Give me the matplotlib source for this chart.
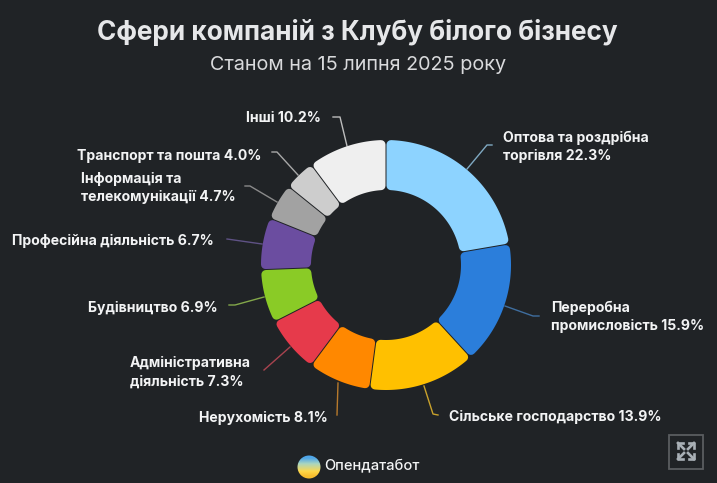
"""Сфери компаній з Клубу білого бізнесу: donut chart on a dark background."""

import matplotlib

matplotlib.use("Agg")
import matplotlib.pyplot as plt
import numpy as np
from matplotlib.patches import Circle, Rectangle

WIDTH, HEIGHT = 717, 483
BG = "#202326"
TEXT = "#F2F3F4"

SECTORS = [
    "Оптова та роздрібна\nторгівля",
    "Переробна\nпромисловість",
    "Сільське господарство",
    "Нерухомість",
    "Адміністративна\nдіяльність",
    "Будівництво",
    "Професійна діяльність",
    "Інформація та\nтелекомунікації",
    "Транспорт та пошта",
    "Інші",
]
SHARES = [22.3, 15.9, 13.9, 8.1, 7.3, 6.9, 6.7, 4.7, 4.0, 10.2]
COLORS = [
    "#8DD3FF", "#2B7EDB", "#FFC000", "#FF8800", "#E63A4B",
    "#8ACB26", "#6B4DA0", "#A2A2A2", "#CDCDCD", "#EFEFEF",
]

# label anchor (left edge, vertical centre) in image pixels
LABEL_POS = [
    (503, 147), (551, 317), (449, 417), (199, 418), (130, 372),
    (88, 308), (12, 241), (81, 188), (77, 156), (246, 118),
]
LEADERS = [
    [(467, 169), (487, 145), (492, 145)],
    [(505, 306), (533, 316), (539, 316)],
    [(424, 386), (433, 414), (438, 415)],
    [(338, 383), (337, 415)],
    [(290, 347), (264, 370)],
    [(264, 297), (235, 305), (229, 305)],
    [(262, 244), (227, 239)],
    [(277, 202), (250, 186), (245, 186)],
    [(298, 175), (277, 152), (272, 152)],
    [(347, 146), (340, 117), (333, 117)],
]
LEADER_COLORS = [
    "#7FA9C2", "#3F6E9F", "#C9A22C", "#B87A2C", "#A8434F",
    "#83A84A", "#5F5285", "#8A8A8A", "#A8A8A8", "#BDBDBD",
]

CX, CY = 386, 265
R_OUT, R_IN = 125, 75
ROUND = 4.5  # corner radius, px
GAP = 0.5  # half of the gap between segments, px

PX = 72 / 100  # one image pixel in points at dpi=100


def segment_outline(start, end):
    """Inset ring segment; the round stroke brings it back to full size."""
    r_o = R_OUT - ROUND
    r_i = R_IN + ROUND
    pad = ROUND + GAP
    outer = np.linspace(start + pad / r_o, end - pad / r_o, 60)
    inner = np.linspace(end - pad / r_i, start + pad / r_i, 60)
    xs = np.concatenate([CX + r_o * np.sin(outer), CX + r_i * np.sin(inner)])
    ys = np.concatenate([CY - r_o * np.cos(outer), CY - r_i * np.cos(inner)])
    return xs, ys


fig = plt.figure(figsize=(WIDTH / 100, HEIGHT / 100), dpi=100, facecolor=BG)
ax = fig.add_axes([0, 0, 1, 1])
ax.set_xlim(0, WIDTH)
ax.set_ylim(HEIGHT, 0)
ax.axis("off")

plt.rcParams["font.family"] = ["Inter", "DejaVu Sans"]

# donut
edges = np.concatenate([[0], np.cumsum(SHARES)]) / sum(SHARES) * 2 * np.pi
for i, color in enumerate(COLORS):
    xs, ys = segment_outline(edges[i], edges[i + 1])
    ax.fill(xs, ys, facecolor=color, edgecolor=color, linewidth=2 * ROUND * PX,
            joinstyle="round", zorder=3)

# labels and leader lines
for name, share, pos, leader, lcolor in zip(SECTORS, SHARES, LABEL_POS, LEADERS, LEADER_COLORS):
    ax.plot(*zip(*leader), color=lcolor, linewidth=1.0, solid_joinstyle="round", zorder=2)
    ax.text(pos[0], pos[1], f"{name} {share:.1f}%", color=TEXT, fontsize=14.05 * PX,
            fontweight="bold", ha="left", va="center", linespacing=1.42, zorder=4)

# titles
ax.text(357, 32, "Сфери компаній з Клубу білого бізнесу", color="#E6E7E9",
        fontsize=26.2 * PX, fontweight="bold", ha="center", va="center")
ax.text(358, 65, "Станом на 15 липня 2025 року", color="#D9DADC",
        fontsize=19.8 * PX, ha="center", va="center")

# logo
grad = np.array([[0.0], [0.35], [0.6], [1.0]])
logo_cmap = matplotlib.colors.LinearSegmentedColormap.from_list(
    "logo", ["#4FA6E8", "#A9D5C0", "#FFD84A", "#F8BE2E"])
img = ax.imshow(grad, cmap=logo_cmap, extent=(297, 321, 479, 455), aspect="auto",
                interpolation="bilinear", zorder=3)
img.set_clip_path(Circle((309, 467), 11.5, transform=ax.transData))
ax.set_xlim(0, WIDTH)
ax.set_ylim(HEIGHT, 0)
ax.text(324, 466, "Опендатабот", color=TEXT, fontsize=14.7 * PX, fontweight="medium",
        ha="left", va="center")

# expand button
ax.add_patch(Rectangle((668.5, 434.5), 34, 34, facecolor="none", edgecolor="#5A5D60", linewidth=1.3))
for sx in (-1, 1):
    for sy in (-1, 1):
        tip = (686 + sx * 8, 451 + sy * 8)
        ax.plot([686 + sx * 2, tip[0]], [451 + sy * 2, tip[1]], color="#A9B0B6", linewidth=1.9)
        ax.plot([tip[0] - sx * 5, tip[0], tip[0]], [tip[1], tip[1], tip[1] - sy * 5],
                color="#A9B0B6", linewidth=1.9)

fig.savefig("out.png", dpi=100, facecolor=BG)
plt.close(fig)
